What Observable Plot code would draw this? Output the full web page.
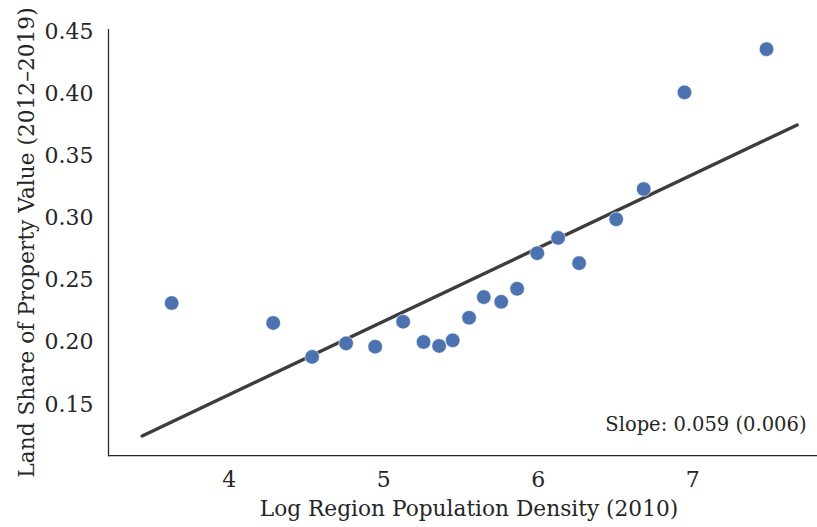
<!DOCTYPE html>
<html>
<head>
<meta charset="utf-8">
<script src="https://cdn.jsdelivr.net/npm/d3@7"></script>
<script src="https://cdn.jsdelivr.net/npm/@observablehq/plot@0.6"></script>
<style>
  html, body { margin: 0; padding: 0; background: #ffffff; }
  #chart svg { display: block; }
</style>
</head>
<body>
<div id="chart"></div>
<script>
// Regional averages: log population density vs. land share of property value
const logDensity = [3.628, 4.285, 4.537, 4.757, 4.945, 5.126, 5.258, 5.359, 5.447, 5.553,
                    5.648, 5.761, 5.864, 5.994, 6.129, 6.265, 6.505, 6.683, 6.947, 7.478];
const landShare  = [0.2316, 0.2156, 0.1883, 0.1992, 0.1965, 0.2166, 0.2003, 0.1971, 0.2016, 0.2198,
                    0.2364, 0.2326, 0.2431, 0.2717, 0.2840, 0.2637, 0.2990, 0.3233, 0.4010, 0.4358];

// Fitted line: slope and its standard error as reported, drawn across this x span
const fitSlope = 0.059;
const fitSlopeSE = 0.006;
const fitIntercept = -0.0781;
const fitSpan = [3.437, 7.676];

const xTicks = [4, 5, 6, 7];
const yTicks = [0.15, 0.20, 0.25, 0.30, 0.35, 0.40, 0.45];

const xLabel = "Log Region Population Density (2010)";
const yLabel = "Land Share of Property Value (2012–2019)";

const points = logDensity.map((x, i) => ({x, y: landShare[i]}));
const fitLine = fitSpan.map(x => ({x, y: fitIntercept + fitSlope * x}));
const slopeText = `Slope: ${fitSlope.toFixed(3)} (${fitSlopeSE.toFixed(3)})`;

const ink = "#262626";
const serif = "'DejaVu Serif', serif";

const chart = Plot.plot({
  width: 817,
  height: 527,
  marginLeft: 108,
  marginRight: 0,
  marginTop: 29,
  marginBottom: 72,
  style: {fontFamily: serif, fontSize: "22px", color: ink, background: "#ffffff"},
  x: {domain: [3.219, 7.808]},
  y: {domain: [0.109, 0.4516]},
  marks: [
    Plot.frame({anchor: "left", stroke: ink, strokeWidth: 1.25}),
    Plot.frame({anchor: "bottom", stroke: ink, strokeWidth: 1.25}),
    Plot.axisX({ticks: xTicks, tickSize: 0, tickPadding: 16, tickFormat: d => String(d), label: null, fill: ink, fontSize: 22, fontFamily: serif}),
    Plot.axisY({ticks: yTicks, tickSize: 0, tickPadding: 15, tickFormat: d3.format(".2f"), label: null, fill: ink, fontSize: 22, fontFamily: serif}),
    Plot.line(fitLine, {x: "x", y: "y", stroke: "#3d3d3d", strokeWidth: 3.4}),
    Plot.dot(points, {x: "x", y: "y", r: 7.3, fill: "#4c72b0", stroke: "#ffffff", strokeWidth: 0.6}),
    Plot.text([slopeText], {frameAnchor: "bottom-right", textAnchor: "end", lineAnchor: "middle", dx: -11, dy: -31.2, fontSize: 19.5, fontFamily: serif, fill: ink}),
    Plot.text([xLabel], {frameAnchor: "bottom", textAnchor: "middle", lineAnchor: "middle", dx: 6, dy: 54, fontSize: 21.7, fontFamily: serif, fill: ink}),
    Plot.text([yLabel], {frameAnchor: "left", rotate: -90, textAnchor: "middle", lineAnchor: "middle", dx: -81.7, fontSize: 21.7, fontFamily: serif, fill: ink})
  ]
});

document.getElementById("chart").appendChild(chart);
</script>
</body>
</html>
